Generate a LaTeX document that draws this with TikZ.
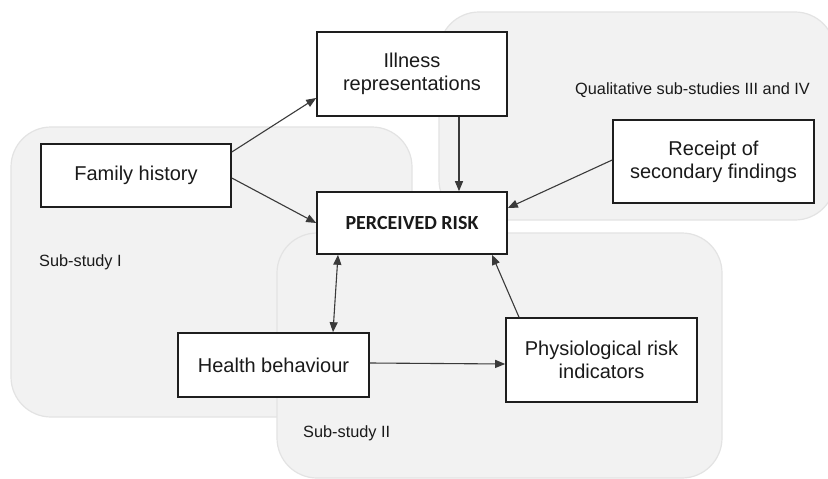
\documentclass[tikz,border=0pt]{standalone}
\usepackage{fontspec}
\setmainfont{Liberation Sans}
\newfontfamily\calib{Carlito}
\usetikzlibrary{arrows.meta}
\definecolor{regfill}{HTML}{F2F2F2}
\definecolor{regline}{HTML}{E3E3E3}
\definecolor{boxline}{HTML}{1E1E1E}
\definecolor{arrline}{HTML}{3A3A3A}
\definecolor{txt}{HTML}{1A1A1A}
\begin{document}
\begin{tikzpicture}[x=1pt,y=-1pt,
  region/.style={fill=regfill, draw=regline, line width=1.2pt, rounded corners=40pt},
  box/.style={draw=boxline, fill=white, line width=1.6pt, align=center, inner sep=0pt,
    font=\fontsize{20}{23}\selectfont, text=txt},
  lbl/.style={anchor=west, inner sep=0pt, font=\fontsize{16.3}{19}\selectfont, text=txt},
  arr/.style={draw=arrline, line width=1.1pt, -{Triangle[length=10pt,width=8pt]}},
  arrboth/.style={draw=arrline, line width=1.1pt, {Triangle[length=10pt,width=8pt]}-{Triangle[length=10pt,width=8pt]}},
]
\useasboundingbox (0,0) rectangle (828,479);
\clip (0,0) rectangle (828,479);
\fill[white] (0,0) rectangle (828,479);

% study regions
\path[region] (11,127) rectangle (412,417);
\path[region] (439,12) rectangle (835,220);
\path[region] (277,233) rectangle (722,478);

% labels
\node[lbl] (s1) at (39,262) {Sub-study I};
\node[lbl] (s2) at (303,433) {Sub-study II};
\node[lbl] (q) at (575,90) {Qualitative sub-studies III and IV};

% boxes
\node[box, minimum width=190pt, minimum height=63pt] (fh) at (136,175.5) {Family history};
\node[box, minimum width=190pt, minimum height=84pt] (ill) at (412,74) {Illness\\representations};
\node[box, minimum width=190pt, minimum height=62pt, font=\calib\bfseries\fontsize{20}{23}\selectfont] (pr) at (412,223) {PERCEIVED RISK};
\node[box, minimum width=201pt, minimum height=83pt] (rec) at (713.5,161.5) {Receipt of\\secondary findings};
\node[box, minimum width=191pt, minimum height=64pt] (hb) at (273.5,365) {Health behaviour};
\node[box, minimum width=191pt, minimum height=84pt] (phys) at (601.5,360) {Physiological risk\\indicators};

% connectors
\draw[arr] ([yshift=23.5pt]fh.east) -- ([yshift=-24pt]ill.west);
\draw[arr] ([yshift=-2.5pt]fh.east) -- (pr.west);
\draw[arr] ([xshift=47pt]ill.south) -- ([xshift=47pt]pr.north);
\draw[arr] ([yshift=1.5pt]rec.west) -- ([yshift=15pt]pr.east);
\draw[arrboth] ([xshift=59.5pt]hb.north) -- ([xshift=-74pt]pr.south);
\draw[arr] ([yshift=2pt]hb.east) -- ([yshift=-4pt]phys.west);
\draw[arr] ([xshift=-82.5pt]phys.north) -- ([xshift=80pt]pr.south);
\end{tikzpicture}
\end{document}
